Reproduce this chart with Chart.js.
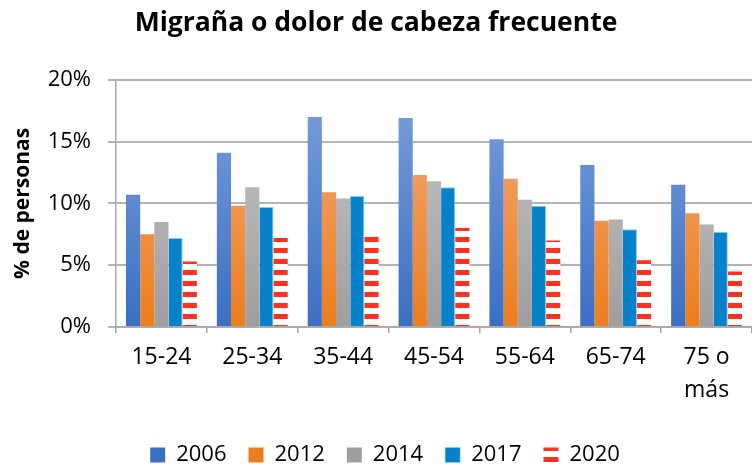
<!DOCTYPE html>
<html><head><meta charset="utf-8">
<script src="https://cdn.jsdelivr.net/npm/chart.js@4"></script>
<style>html,body{margin:0;padding:0;background:#fff}#wrap{width:752px;height:467px}</style>
</head><body><div id="wrap"><canvas id="c" width="752" height="467"></canvas></div>
<script>
const categories = ['15-24', '25-34', '35-44', '45-54', '55-64', '65-74', ['75 o', 'más']];
const years = ['2006', '2012', '2014', '2017', '2020'];
const v2006 = [10.7, 14.1, 17.0, 16.9, 15.2, 13.1, 11.5];
const v2012 = [7.5, 9.8, 10.9, 12.3, 12.0, 8.6, 9.2];
const v2014 = [8.5, 11.3, 10.4, 11.8, 10.3, 8.7, 8.3];
const v2017 = [7.2, 9.7, 10.6, 11.3, 9.8, 7.9, 7.7];
const v2020 = [5.3, 7.2, 7.7, 8.0, 7.0, 5.4, 4.5];
const yTicks = [0, 5, 10, 15, 20];

const FONT = '"Open Sans", Lato, sans-serif';

function grad(top, bottom) {
  return (ctx) => {
    const ca = ctx.chart.chartArea;
    if (!ca) return bottom;
    const g = ctx.chart.ctx.createLinearGradient(0, ca.top + 40, 0, ca.bottom);
    g.addColorStop(0, top);
    g.addColorStop(1, bottom);
    return g;
  };
}

function stripePattern() {
  const p = document.createElement('canvas');
  p.width = 8; p.height = 11;
  const c = p.getContext('2d');
  c.fillStyle = '#ffffff';
  c.fillRect(0, 0, 8, 11);
  c.fillStyle = '#ff3020';
  c.fillRect(0, 6, 8, 5);
  return document.getElementById('c').getContext('2d').createPattern(p, 'repeat');
}
const stripes = stripePattern();

const seriesValues = [v2006, v2012, v2014, v2017, v2020];
const fills = [
  grad('#7399d8', '#3a6fc3'),
  grad('#f4a574', '#ec7e1c'),
  grad('#c3c3c3', '#9e9e9e'),
  '#0682cb',
  stripes
];
const borders = ['rgba(0,0,0,0)', 'rgba(0,0,0,0)', 'rgba(0,0,0,0)', '#8fcdee', 'rgba(0,0,0,0)'];

const datasets = years.map((y, i) => ({
  label: y,
  data: seriesValues[i],
  backgroundColor: fills[i],
  borderColor: borders[i],
  borderWidth: i === 3 ? {right: 1, top: 1} : 0,
  categoryPercentage: 0.78,
  barPercentage: 1.0
}));

const shiftLegend = {
  id: 'shiftLegend',
  afterLayout(chart) {
    const l = chart.legend;
    if (!l) return;
    const dy = 11, dx = 9;
    l.top += dy; l.bottom += dy; l.left += dx; l.right += dx;
    (l.legendHitBoxes || []).forEach(b => { b.top += dy; b.left += dx; });
  }
};

new Chart(document.getElementById('c'), {
  type: 'bar',
  data: { labels: categories, datasets },
  plugins: [shiftLegend],
  options: {
    responsive: false,
    animation: false,
    layout: { padding: { left: 0, right: 0, top: 0, bottom: 2 } },
    plugins: {
      title: {
        display: true,
        text: 'Migraña o dolor de cabeza frecuente',
        color: '#000',
        font: { family: FONT, size: 26.5, weight: 'bold', lineHeight: 1.2 },
        padding: { top: 8, bottom: 40 }
      },
      legend: {
        position: 'bottom',
        labels: {
          color: '#000',
          font: { family: FONT, size: 22 },
          boxWidth: 15,
          boxHeight: 15,
          padding: 22
        }
      },
      tooltip: { enabled: false }
    },
    scales: {
      x: {
        grid: { display: true, drawOnChartArea: false, drawTicks: true, tickLength: 6, color: '#a8a8a8', lineWidth: 1.5, offset: true },
        border: { color: '#a8a8a8', width: 1.5 },
        ticks: { color: '#000', font: { family: FONT, size: 23, lineHeight: 1.42 }, maxRotation: 0, padding: 8 },
        afterFit: (s) => { s.height = 84; }
      },
      y: {
        min: 0, max: 20,
        afterBuildTicks: (s) => { s.ticks = yTicks.map(v => ({ value: v })); },
        grid: { color: '#b4b4b4', lineWidth: 2, drawTicks: true, tickLength: 8 },
        border: { color: '#a8a8a8', width: 1.5 },
        ticks: { color: '#000', font: { family: FONT, size: 22 }, padding: 17, callback: (v) => v + '%' },
        title: { display: true, text: '% de personas', color: '#000', font: { family: FONT, size: 21, weight: 'bold' }, padding: { top: 10, bottom: 4 } },
        afterFit: (s) => { s.width = 116; }
      }
    }
  }
});
</script>
</body></html>
